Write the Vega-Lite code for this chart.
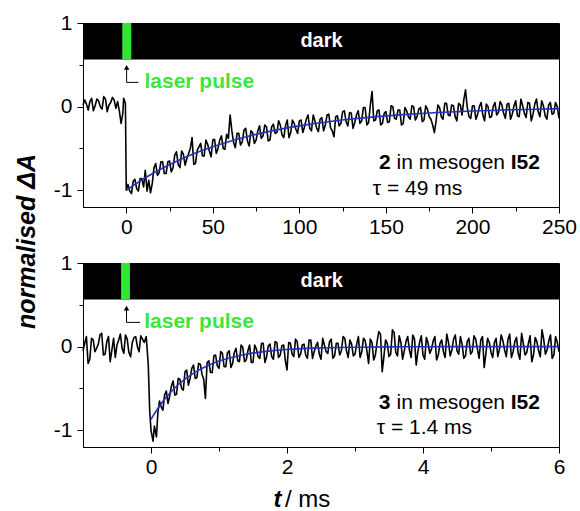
{
  "$schema": "https://vega.github.io/schema/vega-lite/v6.json",
  "padding": {"left": 13, "top": 11, "right": 4, "bottom": 3},
  "bounds": "flush",
  "spacing": 56,
  "config": {
    "font": "Liberation Sans",
    "view": {"stroke": "black", "strokeWidth": 1},
    "axis": {"labelFont": "Liberation Sans", "labelFontSize": 21, "labelColor": "black", "domainColor": "black", "tickColor": "black", "grid": false, "labelFlush": false, "labelOverlap": false, "domainWidth": 1, "tickWidth": 1}
  },
  "datasets": {
    "top": [
      {"t": -25, "y": 0.02}, {"t": -24, "y": 0.08}, {"t": -23, "y": 0.03}, {"t": -22, "y": -0.04}, {"t": -21, "y": 0.06}, {"t": -20, "y": 0.10}, {"t": -19, "y": -0.05}, {"t": -18, "y": 0.01}, {"t": -17, "y": 0.09}, {"t": -16, "y": 0.07}, {"t": -15, "y": 0.00}, {"t": -14, "y": -0.03}, {"t": -13, "y": 0.12}, {"t": -12, "y": 0.09}, {"t": -11, "y": -0.06}, {"t": -10, "y": 0.02}, {"t": -9, "y": 0.05}, {"t": -8, "y": 0.11}, {"t": -7, "y": 0.08}, {"t": -6, "y": -0.02}, {"t": -5, "y": 0.06}, {"t": -4, "y": -0.05}, {"t": -3, "y": -0.20}, {"t": -2, "y": -0.08}, {"t": -1.5, "y": 0.10}, {"t": -0.5, "y": 0.04}, {"t": 0, "y": -1.00}, {"t": 1, "y": -0.93}, {"t": 2, "y": -1.01},
      {"t": 3, "y": -1.04}, {"t": 4, "y": -0.89}, {"t": 5, "y": -0.87}, {"t": 6, "y": -0.98}, {"t": 7, "y": -1.01}, {"t": 8, "y": -0.86}, {"t": 9, "y": -0.86}, {"t": 10, "y": -0.96}, {"t": 11, "y": -0.76}, {"t": 12, "y": -1.01}, {"t": 13, "y": -0.88}, {"t": 14, "y": -1.03}, {"t": 15, "y": -0.92}, {"t": 16, "y": -0.73}, {"t": 17, "y": -0.68}, {"t": 18, "y": -0.82}, {"t": 19, "y": -0.79}, {"t": 20, "y": -0.66}, {"t": 21, "y": -0.66}, {"t": 22, "y": -0.80}, {"t": 23, "y": -0.80}, {"t": 24, "y": -0.66}, {"t": 25, "y": -0.65}, {"t": 26, "y": -0.78}, {"t": 27, "y": -0.73}, {"t": 28, "y": -0.58}, {"t": 29, "y": -0.54}, {"t": 30, "y": -0.69}, {"t": 31, "y": -0.73}, {"t": 32, "y": -0.53}, {"t": 33, "y": -0.57}, {"t": 34, "y": -0.70}, {"t": 35, "y": -0.62}, {"t": 36, "y": -0.56}, {"t": 37, "y": -0.50}, {"t": 38, "y": -0.37}, {"t": 39, "y": -0.69}, {"t": 40, "y": -0.68}, {"t": 41, "y": -0.52}, {"t": 42, "y": -0.48}, {"t": 43, "y": -0.44}, {"t": 44, "y": -0.59}, {"t": 45, "y": -0.59}, {"t": 46, "y": -0.40}, {"t": 47, "y": -0.45}, {"t": 48, "y": -0.53}, {"t": 49, "y": -0.60}, {"t": 50, "y": -0.40}, {"t": 51, "y": -0.39}, {"t": 52, "y": -0.56}, {"t": 53, "y": -0.50}, {"t": 54, "y": -0.40}, {"t": 55, "y": -0.35}, {"t": 56, "y": -0.50}, {"t": 57, "y": -0.51}, {"t": 58, "y": -0.33}, {"t": 59, "y": -0.38}, {"t": 60, "y": -0.10}, {"t": 61, "y": -0.29}, {"t": 62, "y": -0.43}, {"t": 63, "y": -0.49}, {"t": 64, "y": -0.32}, {"t": 65, "y": -0.32}, {"t": 66, "y": -0.46}, {"t": 67, "y": -0.42}, {"t": 68, "y": -0.28}, {"t": 69, "y": -0.26}, {"t": 70, "y": -0.41}, {"t": 71, "y": -0.47}, {"t": 72, "y": -0.29}, {"t": 73, "y": -0.31}, {"t": 74, "y": -0.44}, {"t": 75, "y": -0.40}, {"t": 76, "y": -0.29}, {"t": 77, "y": -0.23}, {"t": 78, "y": -0.38}, {"t": 79, "y": -0.35}, {"t": 80, "y": -0.22}, {"t": 81, "y": -0.24}, {"t": 82, "y": -0.41}, {"t": 83, "y": -0.40}, {"t": 84, "y": -0.24}, {"t": 85, "y": -0.21}, {"t": 86, "y": -0.32}, {"t": 87, "y": -0.31}, {"t": 88, "y": -0.17}, {"t": 89, "y": -0.22}, {"t": 90, "y": -0.34}, {"t": 91, "y": -0.37}, {"t": 92, "y": -0.23}, {"t": 93, "y": -0.16}, {"t": 94, "y": -0.37}, {"t": 95, "y": -0.31}, {"t": 96, "y": -0.16}, {"t": 97, "y": -0.20}, {"t": 98, "y": -0.27}, {"t": 99, "y": -0.32}, {"t": 100, "y": -0.17}, {"t": 101, "y": -0.16}, {"t": 102, "y": -0.31}, {"t": 103, "y": -0.24}, {"t": 104, "y": -0.15}, {"t": 105, "y": -0.10}, {"t": 106, "y": -0.26}, {"t": 107, "y": -0.29}, {"t": 108, "y": -0.10}, {"t": 109, "y": -0.17}, {"t": 110, "y": -0.26}, {"t": 111, "y": -0.30}, {"t": 112, "y": -0.15}, {"t": 113, "y": -0.13}, {"t": 114, "y": -0.29}, {"t": 115, "y": -0.22}, {"t": 116, "y": -0.10}, {"t": 117, "y": -0.09}, {"t": 118, "y": -0.25}, {"t": 119, "y": -0.29}, {"t": 120, "y": -0.36}, {"t": 121, "y": -0.12}, {"t": 122, "y": -0.11}, {"t": 123, "y": -0.23}, {"t": 124, "y": -0.20}, {"t": 125, "y": -0.06}, {"t": 126, "y": -0.05}, {"t": 127, "y": -0.18}, {"t": 128, "y": -0.23}, {"t": 129, "y": -0.07}, {"t": 130, "y": -0.08}, {"t": 131, "y": -0.26}, {"t": 132, "y": -0.19}, {"t": 133, "y": -0.10}, {"t": 134, "y": -0.05}, {"t": 135, "y": -0.20}, {"t": 136, "y": -0.17}, {"t": 137, "y": -0.01}, {"t": 138, "y": -0.01}, {"t": 139, "y": -0.22}, {"t": 140, "y": -0.19}, {"t": 141, "y": 0.02}, {"t": 142, "y": 0.18}, {"t": 143, "y": -0.17}, {"t": 144, "y": -0.16}, {"t": 145, "y": -0.05}, {"t": 146, "y": -0.04}, {"t": 147, "y": -0.22}, {"t": 148, "y": -0.20}, {"t": 149, "y": -0.08}, {"t": 150, "y": -0.06}, {"t": 151, "y": -0.19}, {"t": 152, "y": -0.18}, {"t": 153, "y": 0.01}, {"t": 154, "y": 0.00}, {"t": 155, "y": -0.14}, {"t": 156, "y": -0.15}, {"t": 157, "y": -0.04}, {"t": 158, "y": -0.04}, {"t": 159, "y": -0.22}, {"t": 160, "y": -0.20}, {"t": 161, "y": -0.01}, {"t": 162, "y": -0.05}, {"t": 163, "y": -0.12}, {"t": 164, "y": -0.15}, {"t": 165, "y": 0.01}, {"t": 166, "y": 0.00}, {"t": 167, "y": -0.16}, {"t": 168, "y": -0.12}, {"t": 169, "y": -0.03}, {"t": 170, "y": -0.01}, {"t": 171, "y": -0.18}, {"t": 172, "y": -0.16}, {"t": 173, "y": 0.01}, {"t": 174, "y": -0.03}, {"t": 175, "y": -0.12}, {"t": 176, "y": -0.15}, {"t": 177, "y": -0.22}, {"t": 178, "y": -0.31}, {"t": 179, "y": -0.17}, {"t": 180, "y": 0.02}, {"t": 181, "y": -0.01}, {"t": 182, "y": -0.12}, {"t": 183, "y": -0.15}, {"t": 184, "y": 0.04}, {"t": 185, "y": 0.04}, {"t": 186, "y": -0.10}, {"t": 187, "y": -0.11}, {"t": 188, "y": 0.02}, {"t": 189, "y": 0.01}, {"t": 190, "y": -0.12}, {"t": 191, "y": -0.17}, {"t": 192, "y": 0.04}, {"t": 193, "y": 0.02}, {"t": 194, "y": -0.10}, {"t": 195, "y": 0.08}, {"t": 196, "y": 0.20}, {"t": 197, "y": -0.01}, {"t": 198, "y": -0.12}, {"t": 199, "y": -0.14}, {"t": 200, "y": 0.01}, {"t": 201, "y": 0.01}, {"t": 202, "y": -0.15}, {"t": 203, "y": -0.09}, {"t": 204, "y": 0.00}, {"t": 205, "y": 0.05}, {"t": 206, "y": -0.10}, {"t": 207, "y": -0.17}, {"t": 208, "y": 0.03}, {"t": 209, "y": 0.00}, {"t": 210, "y": -0.13}, {"t": 211, "y": -0.12}, {"t": 212, "y": 0.00}, {"t": 213, "y": 0.05}, {"t": 214, "y": -0.10}, {"t": 215, "y": -0.07}, {"t": 216, "y": 0.06}, {"t": 217, "y": 0.02}, {"t": 218, "y": -0.08}, {"t": 219, "y": -0.14}, {"t": 220, "y": 0.03}, {"t": 221, "y": 0.04}, {"t": 222, "y": -0.15}, {"t": 223, "y": -0.09}, {"t": 224, "y": 0.01}, {"t": 225, "y": 0.07}, {"t": 226, "y": -0.11}, {"t": 227, "y": -0.12}, {"t": 228, "y": 0.09}, {"t": 229, "y": 0.01}, {"t": 230, "y": -0.08}, {"t": 231, "y": -0.13}, {"t": 232, "y": 0.05}, {"t": 233, "y": 0.04}, {"t": 234, "y": -0.17}, {"t": 235, "y": -0.09}, {"t": 236, "y": 0.03}, {"t": 237, "y": 0.09}, {"t": 238, "y": -0.06}, {"t": 239, "y": -0.12}, {"t": 240, "y": 0.07}, {"t": 241, "y": 0.01}, {"t": 242, "y": -0.11}, {"t": 243, "y": -0.15}, {"t": 244, "y": 0.02}, {"t": 245, "y": 0.05}, {"t": 246, "y": -0.09}, {"t": 247, "y": -0.08}, {"t": 248, "y": 0.05}, {"t": 249, "y": 0.00}, {"t": 250, "y": -0.14}
    ],
    "topfit": [
      {"t": 0, "y": -1.0}, {"t": 5, "y": -0.929}, {"t": 10, "y": -0.863}, {"t": 15, "y": -0.802}, {"t": 20, "y": -0.745}, {"t": 30, "y": -0.643}, {"t": 40, "y": -0.555}, {"t": 50, "y": -0.479}, {"t": 60, "y": -0.414}, {"t": 70, "y": -0.357}, {"t": 80, "y": -0.308}, {"t": 90, "y": -0.266}, {"t": 100, "y": -0.230}, {"t": 110, "y": -0.198}, {"t": 120, "y": -0.171}, {"t": 130, "y": -0.148}, {"t": 140, "y": -0.128}, {"t": 150, "y": -0.110}, {"t": 160, "y": -0.095}, {"t": 170, "y": -0.082}, {"t": 180, "y": -0.071}, {"t": 190, "y": -0.061}, {"t": 200, "y": -0.053}, {"t": 210, "y": -0.046}, {"t": 220, "y": -0.039}, {"t": 230, "y": -0.034}, {"t": 240, "y": -0.029}, {"t": 250, "y": -0.025}
    ],
    "bot": [
      {"t": -1.00, "y": -0.05}, {"t": -0.975, "y": 0.04}, {"t": -0.95, "y": 0.12}, {"t": -0.925, "y": -0.20}, {"t": -0.90, "y": -0.15}, {"t": -0.875, "y": 0.10}, {"t": -0.85, "y": 0.08}, {"t": -0.825, "y": -0.06}, {"t": -0.80, "y": -0.02}, {"t": -0.775, "y": 0.03}, {"t": -0.75, "y": 0.14}, {"t": -0.725, "y": 0.16}, {"t": -0.70, "y": -0.10}, {"t": -0.675, "y": -0.09}, {"t": -0.65, "y": 0.06}, {"t": -0.625, "y": 0.12}, {"t": -0.60, "y": -0.18}, {"t": -0.575, "y": -0.04}, {"t": -0.55, "y": 0.10}, {"t": -0.525, "y": -0.13}, {"t": -0.50, "y": 0.02}, {"t": -0.475, "y": 0.08}, {"t": -0.45, "y": 0.15}, {"t": -0.425, "y": -0.02}, {"t": -0.40, "y": -0.08}, {"t": -0.375, "y": 0.14}, {"t": -0.35, "y": 0.09}, {"t": -0.325, "y": -0.07}, {"t": -0.30, "y": -0.12}, {"t": -0.275, "y": 0.05}, {"t": -0.25, "y": 0.11}, {"t": -0.225, "y": 0.12}, {"t": -0.20, "y": 0.00}, {"t": -0.175, "y": -0.06}, {"t": -0.15, "y": 0.13}, {"t": -0.125, "y": 0.09}, {"t": -0.10, "y": 0.05}, {"t": -0.07, "y": 0.12}, {"t": -0.04, "y": -0.22}, {"t": -0.02, "y": -0.75}, {"t": 0.00, "y": -1.00}, {"t": 0.03, "y": -1.13}, {"t": 0.05, "y": -0.95}, {"t": 0.08, "y": -1.08}, {"t": 0.10, "y": -0.80}, {"t": 0.125, "y": -0.65}, {"t": 0.15, "y": -0.72}, {"t": 0.175, "y": -0.76}, {"t": 0.20, "y": -0.58}, {"t": 0.225, "y": -0.53}, {"t": 0.25, "y": -0.68}, {"t": 0.275, "y": -0.59}, {"t": 0.30, "y": -0.47}, {"t": 0.325, "y": -0.41}, {"t": 0.35, "y": -0.58}, {"t": 0.375, "y": -0.57}, {"t": 0.40, "y": -0.38}, {"t": 0.425, "y": -0.39}, {"t": 0.45, "y": -0.50}, {"t": 0.475, "y": -0.52}, {"t": 0.50, "y": -0.30}, {"t": 0.525, "y": -0.28}, {"t": 0.55, "y": -0.46}, {"t": 0.575, "y": -0.38}, {"t": 0.60, "y": -0.26}, {"t": 0.625, "y": -0.22}, {"t": 0.65, "y": -0.38}, {"t": 0.675, "y": -0.37}, {"t": 0.70, "y": -0.20}, {"t": 0.725, "y": -0.21}, {"t": 0.75, "y": -0.33}, {"t": 0.775, "y": -0.39}, {"t": 0.80, "y": -0.62}, {"t": 0.825, "y": -0.19}, {"t": 0.85, "y": -0.17}, {"t": 0.875, "y": -0.31}, {"t": 0.90, "y": -0.31}, {"t": 0.925, "y": -0.11}, {"t": 0.95, "y": -0.10}, {"t": 0.975, "y": -0.23}, {"t": 1.00, "y": -0.26}, {"t": 1.025, "y": -0.06}, {"t": 1.05, "y": -0.08}, {"t": 1.075, "y": -0.24}, {"t": 1.10, "y": -0.24}, {"t": 1.125, "y": -0.07}, {"t": 1.15, "y": -0.05}, {"t": 1.175, "y": -0.25}, {"t": 1.20, "y": -0.20}, {"t": 1.225, "y": -0.07}, {"t": 1.25, "y": -0.02}, {"t": 1.275, "y": -0.17}, {"t": 1.30, "y": -0.18}, {"t": 1.325, "y": 0.02}, {"t": 1.35, "y": -0.01}, {"t": 1.375, "y": -0.18}, {"t": 1.40, "y": -0.16}, {"t": 1.425, "y": -0.05}, {"t": 1.45, "y": 0.02}, {"t": 1.475, "y": -0.19}, {"t": 1.50, "y": -0.19}, {"t": 1.525, "y": 0.02}, {"t": 1.55, "y": -0.03}, {"t": 1.575, "y": -0.12}, {"t": 1.60, "y": -0.14}, {"t": 1.625, "y": 0.04}, {"t": 1.65, "y": 0.04}, {"t": 1.675, "y": -0.19}, {"t": 1.70, "y": -0.12}, {"t": 1.725, "y": 0.01}, {"t": 1.75, "y": 0.03}, {"t": 1.775, "y": -0.12}, {"t": 1.80, "y": -0.15}, {"t": 1.825, "y": 0.06}, {"t": 1.85, "y": 0.05}, {"t": 1.875, "y": -0.13}, {"t": 1.90, "y": -0.10}, {"t": 1.925, "y": 0.01}, {"t": 1.95, "y": 0.02}, {"t": 1.975, "y": -0.16}, {"t": 2.00, "y": -0.28}, {"t": 2.025, "y": 0.05}, {"t": 2.05, "y": 0.04}, {"t": 2.075, "y": -0.09}, {"t": 2.10, "y": -0.12}, {"t": 2.125, "y": 0.09}, {"t": 2.15, "y": 0.06}, {"t": 2.175, "y": -0.13}, {"t": 2.20, "y": -0.09}, {"t": 2.225, "y": 0.02}, {"t": 2.25, "y": 0.03}, {"t": 2.275, "y": -0.10}, {"t": 2.30, "y": -0.14}, {"t": 2.325, "y": 0.08}, {"t": 2.35, "y": 0.08}, {"t": 2.375, "y": -0.14}, {"t": 2.40, "y": -0.06}, {"t": 2.425, "y": 0.01}, {"t": 2.45, "y": 0.05}, {"t": 2.475, "y": -0.09}, {"t": 2.50, "y": -0.15}, {"t": 2.525, "y": 0.10}, {"t": 2.55, "y": 0.02}, {"t": 2.575, "y": -0.06}, {"t": 2.60, "y": -0.08}, {"t": 2.625, "y": 0.06}, {"t": 2.65, "y": 0.09}, {"t": 2.675, "y": -0.14}, {"t": 2.70, "y": -0.11}, {"t": 2.725, "y": 0.04}, {"t": 2.75, "y": 0.04}, {"t": 2.775, "y": -0.10}, {"t": 2.80, "y": -0.05}, {"t": 2.825, "y": 0.12}, {"t": 2.85, "y": 0.10}, {"t": 2.875, "y": -0.05}, {"t": 2.90, "y": -0.13}, {"t": 2.925, "y": 0.08}, {"t": 2.95, "y": 0.03}, {"t": 2.975, "y": -0.11}, {"t": 3.00, "y": -0.09}, {"t": 3.025, "y": 0.03}, {"t": 3.05, "y": 0.12}, {"t": 3.075, "y": -0.13}, {"t": 3.10, "y": -0.06}, {"t": 3.125, "y": 0.10}, {"t": 3.15, "y": 0.07}, {"t": 3.175, "y": -0.05}, {"t": 3.20, "y": -0.20}, {"t": 3.225, "y": 0.09}, {"t": 3.25, "y": 0.05}, {"t": 3.275, "y": -0.16}, {"t": 3.30, "y": -0.10}, {"t": 3.325, "y": 0.06}, {"t": 3.35, "y": 0.18}, {"t": 3.375, "y": 0.15}, {"t": 3.40, "y": -0.30}, {"t": 3.425, "y": -0.12}, {"t": 3.45, "y": 0.08}, {"t": 3.475, "y": 0.04}, {"t": 3.50, "y": -0.12}, {"t": 3.525, "y": -0.09}, {"t": 3.55, "y": 0.20}, {"t": 3.575, "y": 0.17}, {"t": 3.60, "y": -0.07}, {"t": 3.625, "y": -0.11}, {"t": 3.65, "y": 0.13}, {"t": 3.675, "y": 0.05}, {"t": 3.70, "y": -0.15}, {"t": 3.725, "y": -0.05}, {"t": 3.75, "y": 0.06}, {"t": 3.775, "y": 0.12}, {"t": 3.80, "y": -0.04}, {"t": 3.825, "y": -0.13}, {"t": 3.85, "y": 0.14}, {"t": 3.875, "y": 0.09}, {"t": 3.90, "y": -0.22}, {"t": 3.925, "y": -0.06}, {"t": 3.95, "y": 0.05}, {"t": 3.975, "y": 0.13}, {"t": 4.00, "y": -0.10}, {"t": 4.025, "y": -0.15}, {"t": 4.05, "y": 0.11}, {"t": 4.075, "y": 0.04}, {"t": 4.10, "y": -0.08}, {"t": 4.125, "y": -0.03}, {"t": 4.15, "y": 0.07}, {"t": 4.175, "y": 0.12}, {"t": 4.20, "y": -0.16}, {"t": 4.225, "y": -0.10}, {"t": 4.25, "y": 0.04}, {"t": 4.275, "y": 0.08}, {"t": 4.30, "y": -0.06}, {"t": 4.325, "y": -0.13}, {"t": 4.35, "y": 0.15}, {"t": 4.375, "y": 0.05}, {"t": 4.40, "y": -0.11}, {"t": 4.425, "y": -0.04}, {"t": 4.45, "y": 0.09}, {"t": 4.475, "y": 0.14}, {"t": 4.50, "y": -0.05}, {"t": 4.525, "y": -0.09}, {"t": 4.55, "y": 0.12}, {"t": 4.575, "y": 0.03}, {"t": 4.60, "y": -0.14}, {"t": 4.625, "y": -0.11}, {"t": 4.65, "y": 0.06}, {"t": 4.675, "y": 0.10}, {"t": 4.70, "y": -0.09}, {"t": 4.725, "y": -0.06}, {"t": 4.75, "y": 0.13}, {"t": 4.775, "y": 0.09}, {"t": 4.80, "y": -0.03}, {"t": 4.825, "y": -0.14}, {"t": 4.85, "y": 0.08}, {"t": 4.875, "y": 0.12}, {"t": 4.90, "y": -0.25}, {"t": 4.925, "y": -0.08}, {"t": 4.95, "y": 0.10}, {"t": 4.975, "y": 0.05}, {"t": 5.00, "y": -0.07}, {"t": 5.025, "y": -0.13}, {"t": 5.05, "y": 0.05}, {"t": 5.075, "y": 0.10}, {"t": 5.10, "y": -0.12}, {"t": 5.125, "y": -0.03}, {"t": 5.15, "y": 0.14}, {"t": 5.175, "y": 0.07}, {"t": 5.20, "y": -0.04}, {"t": 5.225, "y": -0.12}, {"t": 5.25, "y": 0.09}, {"t": 5.275, "y": 0.15}, {"t": 5.30, "y": -0.13}, {"t": 5.325, "y": -0.06}, {"t": 5.35, "y": 0.06}, {"t": 5.375, "y": 0.11}, {"t": 5.40, "y": -0.08}, {"t": 5.425, "y": -0.15}, {"t": 5.45, "y": 0.16}, {"t": 5.475, "y": 0.04}, {"t": 5.50, "y": -0.10}, {"t": 5.525, "y": -0.07}, {"t": 5.55, "y": 0.04}, {"t": 5.575, "y": 0.13}, {"t": 5.60, "y": -0.18}, {"t": 5.625, "y": -0.10}, {"t": 5.65, "y": 0.11}, {"t": 5.675, "y": 0.06}, {"t": 5.70, "y": -0.05}, {"t": 5.725, "y": -0.12}, {"t": 5.75, "y": 0.20}, {"t": 5.775, "y": 0.09}, {"t": 5.80, "y": -0.09}, {"t": 5.825, "y": -0.04}, {"t": 5.85, "y": 0.07}, {"t": 5.875, "y": 0.14}, {"t": 5.90, "y": -0.14}, {"t": 5.925, "y": -0.10}, {"t": 5.95, "y": 0.12}, {"t": 5.975, "y": 0.05}, {"t": 6.00, "y": -0.06}
    ],
    "botfit": [
      {"t": 0, "y": -0.87}, {"t": 0.05, "y": -0.803}, {"t": 0.1, "y": -0.740}, {"t": 0.15, "y": -0.683}, {"t": 0.2, "y": -0.630}, {"t": 0.3, "y": -0.536}, {"t": 0.4, "y": -0.456}, {"t": 0.5, "y": -0.388}, {"t": 0.6, "y": -0.331}, {"t": 0.7, "y": -0.281}, {"t": 0.8, "y": -0.240}, {"t": 0.9, "y": -0.204}, {"t": 1.0, "y": -0.173}, {"t": 1.2, "y": -0.126}, {"t": 1.4, "y": -0.091}, {"t": 1.6, "y": -0.066}, {"t": 1.8, "y": -0.048}, {"t": 2.0, "y": -0.035}, {"t": 2.5, "y": -0.015}, {"t": 3.0, "y": -0.007}, {"t": 3.5, "y": -0.003}, {"t": 4.0, "y": -0.001}, {"t": 5.0, "y": 0}, {"t": 6.0, "y": 0}
    ]
  },
  "vconcat": [
    {
      "width": 476,
      "height": 184,
      "encoding": {
        "x": {"field": "t", "type": "quantitative", "scale": {"domain": [-25, 250], "nice": false, "zero": false},
          "axis": {"title": null, "values": [0, 25, 50, 75, 100, 125, 150, 175, 200, 225, 250], "labelExpr": "datum.value % 50 === 0 ? '' + datum.value : ''", "tickSize": {"condition": {"test": "datum.value % 50 === 0", "value": 6}, "value": 4}, "labelPadding": 3}},
        "y": {"field": "y", "type": "quantitative", "scale": {"domain": [-1.2, 1], "nice": false, "zero": false},
          "axis": {"values": [-1, -0.5, 0, 0.5, 1], "labelExpr": "datum.value % 1 === 0 ? '' + datum.value : ''", "tickSize": {"condition": {"test": "datum.value % 1 === 0", "value": 6}, "value": 4}, "labelPadding": 5,
            "title": "normalised ΔA", "titleFont": "Liberation Sans", "titleFontSize": 25, "titleFontWeight": "bold", "titleFontStyle": "italic", "titleColor": "black", "titleAngle": 270, "titleAlign": "center", "titleBaseline": "middle", "titleX": -57, "titleY": 218}}
      },
      "layer": [
        {"data": {"name": "top"}, "mark": {"type": "line", "color": "black", "strokeWidth": 1.6, "strokeJoin": "round"}},
        {"data": {"name": "topfit"}, "mark": {"type": "line", "color": "#2233bb", "strokeWidth": 1.6, "interpolate": "monotone"}},
        {"data": {"values": [{"t": -25, "y": 0.565, "t2": 250, "y2": 1}]}, "mark": {"type": "rect", "color": "black"}, "encoding": {"x2": {"field": "t2"}, "y2": {"field": "y2"}}},
        {"data": {"values": [{"t": -2.3, "y": 0.565, "t2": 2.9, "y2": 1}]}, "mark": {"type": "rect", "color": "#33e633"}, "encoding": {"x2": {"field": "t2"}, "y2": {"field": "y2"}}},
        {"data": {"values": [{"t": 112.8, "y": 0.78, "label": "dark"}]}, "mark": {"type": "text", "color": "white", "fontWeight": "bold", "fontSize": 20, "align": "center", "baseline": "middle"}, "encoding": {"text": {"field": "label"}}},
        {"data": {"values": [{"t": 0.2, "y": 0.29, "t2": 0.2, "y2": 0.45}, {"t": 0.2, "y": 0.29, "t2": 7, "y2": 0.29}]}, "mark": {"type": "rule", "color": "black", "strokeWidth": 1}, "encoding": {"x2": {"field": "t2"}, "y2": {"field": "y2"}}},
        {"data": {"values": [{"t": 0.2, "y": 0.47}]}, "mark": {"type": "point", "shape": "triangle-up", "filled": true, "color": "black", "size": 30, "opacity": 1}},
        {"data": {"values": [{"t": 10.5, "y": 0.30, "label": "laser pulse"}]}, "mark": {"type": "text", "color": "#3ce63c", "fontWeight": "bold", "fontSize": 21, "align": "left", "baseline": "middle"}, "encoding": {"text": {"field": "label"}}},
        {"data": {"values": [{"t": 146.0, "y": -0.67, "label": "2"}, {"t": 222.1, "y": -0.67, "label": "I52"}]}, "mark": {"type": "text", "color": "black", "fontWeight": "bold", "fontSize": 21, "align": "left", "baseline": "middle"}, "encoding": {"text": {"field": "label"}}},
        {"data": {"values": [{"t": 156.1, "y": -0.67, "label": "in mesogen"}, {"t": 142.4, "y": -0.99, "label": "τ = 49 ms"}]}, "mark": {"type": "text", "color": "black", "fontSize": 21, "align": "left", "baseline": "middle"}, "encoding": {"text": {"field": "label"}}}
      ]
    },
    {
      "width": 476,
      "height": 184,
      "encoding": {
        "x": {"field": "t", "type": "quantitative", "scale": {"domain": [-1, 6], "nice": false, "zero": false},
          "axis": {"title": null, "values": [0, 1, 2, 3, 4, 5, 6], "labelExpr": "datum.value % 2 === 0 ? '' + datum.value : ''", "tickSize": {"condition": {"test": "datum.value % 2 === 0", "value": 6}, "value": 4}, "labelPadding": 3}},
        "y": {"field": "y", "type": "quantitative", "scale": {"domain": [-1.2, 1], "nice": false, "zero": false},
          "axis": {"title": null, "values": [-1, -0.5, 0, 0.5, 1], "labelExpr": "datum.value % 1 === 0 ? '' + datum.value : ''", "tickSize": {"condition": {"test": "datum.value % 1 === 0", "value": 6}, "value": 4}, "labelPadding": 5}}
      },
      "layer": [
        {"data": {"name": "bot"}, "mark": {"type": "line", "color": "black", "strokeWidth": 1.6, "strokeJoin": "round"}},
        {"data": {"name": "botfit"}, "mark": {"type": "line", "color": "#2233bb", "strokeWidth": 1.6, "interpolate": "monotone"}},
        {"data": {"values": [{"t": -1, "y": 0.565, "t2": 6, "y2": 1}]}, "mark": {"type": "rect", "color": "black"}, "encoding": {"x2": {"field": "t2"}, "y2": {"field": "y2"}}},
        {"data": {"values": [{"t": -0.44, "y": 0.565, "t2": -0.31, "y2": 1}]}, "mark": {"type": "rect", "color": "#33e633"}, "encoding": {"x2": {"field": "t2"}, "y2": {"field": "y2"}}},
        {"data": {"values": [{"t": 2.51, "y": 0.79, "label": "dark"}]}, "mark": {"type": "text", "color": "white", "fontWeight": "bold", "fontSize": 20, "align": "center", "baseline": "middle"}, "encoding": {"text": {"field": "label"}}},
        {"data": {"values": [{"t": -0.36, "y": 0.29, "t2": -0.36, "y2": 0.44}, {"t": -0.36, "y": 0.29, "t2": -0.16, "y2": 0.29}]}, "mark": {"type": "rule", "color": "black", "strokeWidth": 1}, "encoding": {"x2": {"field": "t2"}, "y2": {"field": "y2"}}},
        {"data": {"values": [{"t": -0.36, "y": 0.46}]}, "mark": {"type": "point", "shape": "triangle-up", "filled": true, "color": "black", "size": 30, "opacity": 1}},
        {"data": {"values": [{"t": -0.10, "y": 0.30, "label": "laser pulse"}]}, "mark": {"type": "text", "color": "#3ce63c", "fontWeight": "bold", "fontSize": 21, "align": "left", "baseline": "middle"}, "encoding": {"text": {"field": "label"}}},
        {"data": {"values": [{"t": 3.35, "y": -0.67, "label": "3"}, {"t": 5.29, "y": -0.67, "label": "I52"}]}, "mark": {"type": "text", "color": "black", "fontWeight": "bold", "fontSize": 21, "align": "left", "baseline": "middle"}, "encoding": {"text": {"field": "label"}}},
        {"data": {"values": [{"t": 3.61, "y": -0.67, "label": "in mesogen"}, {"t": 3.32, "y": -0.97, "label": "τ = 1.4 ms"}]}, "mark": {"type": "text", "color": "black", "fontSize": 21, "align": "left", "baseline": "middle"}, "encoding": {"text": {"field": "label"}}},
        {"data": {"values": [{"t": 1.92, "y": -1.83, "label": "t"}]}, "mark": {"type": "text", "color": "black", "fontWeight": "bold", "fontStyle": "italic", "fontSize": 24, "align": "right", "baseline": "middle"}, "encoding": {"text": {"field": "label"}}},
        {"data": {"values": [{"t": 1.97, "y": -1.83, "label": "/ ms"}]}, "mark": {"type": "text", "color": "black", "fontSize": 24, "align": "left", "baseline": "middle"}, "encoding": {"text": {"field": "label"}}}
      ]
    }
  ]
}
